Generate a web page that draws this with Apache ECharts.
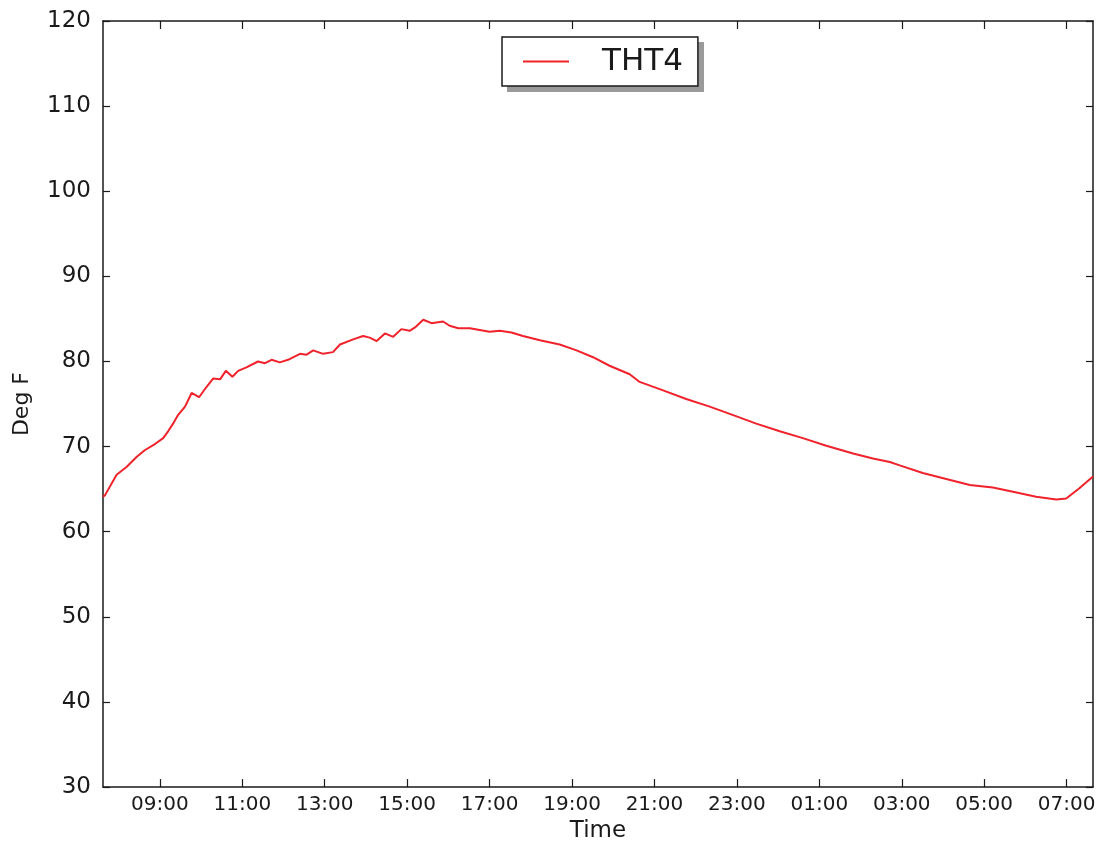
<!DOCTYPE html>
<html>
<head>
<meta charset="utf-8">
<style>
  html, body { margin: 0; padding: 0; background: #fff; }
  #chart { width: 1101px; height: 848px; }
</style>
<script src="https://cdn.jsdelivr.net/npm/echarts@6/dist/echarts.min.js"></script>
</head>
<body>
<div id="chart"></div>
<script>
// time of reading, hours from midnight of the first day (values past 24 are the next morning)
var hours = [
  7.62, 7.67, 7.95, 8.19, 8.44, 8.64, 8.88, 9.08, 9.20, 9.32, 9.44, 9.61, 9.77, 9.95,
  10.13, 10.29, 10.46, 10.60, 10.76, 10.90, 11.10, 11.38, 11.55, 11.71, 11.91, 12.11,
  12.40, 12.56, 12.72, 12.96, 13.20, 13.37, 13.69, 13.93, 14.09, 14.26, 14.46, 14.66,
  14.86, 15.06, 15.19, 15.39, 15.59, 15.87, 16.03, 16.24, 16.52, 16.76, 17.00, 17.25,
  17.53, 17.81, 18.22, 18.70, 19.11, 19.51, 19.91, 20.40, 20.64, 21.21, 21.77, 22.34,
  22.91, 23.47, 24.04, 24.60, 25.17, 25.82, 26.30, 26.71, 26.95, 27.51, 28.08, 28.65,
  29.21, 29.70, 30.26, 30.75, 30.99, 31.31, 31.64
];
var degF = [
  64.1, 64.3, 66.7, 67.6, 68.8, 69.6, 70.3, 71.0, 71.8, 72.7, 73.7, 74.7, 76.3, 75.8,
  77.0, 78.0, 77.9, 78.9, 78.2, 78.9, 79.3, 80.0, 79.8, 80.2, 79.9, 80.2,
  80.9, 80.8, 81.3, 80.9, 81.1, 82.0, 82.6, 83.0, 82.8, 82.4, 83.3, 82.9,
  83.8, 83.6, 84.0, 84.9, 84.5, 84.7, 84.2, 83.9, 83.9, 83.7, 83.5, 83.6,
  83.4, 83.0, 82.5, 82.0, 81.3, 80.5, 79.5, 78.5, 77.6, 76.6, 75.6, 74.7,
  73.7, 72.7, 71.8, 71.0, 70.1, 69.2, 68.6, 68.2, 67.8, 66.9, 66.2, 65.5,
  65.2, 64.7, 64.1, 63.8, 63.9, 65.1, 66.5
];
var xTicks = [9, 11, 13, 15, 17, 19, 21, 23, 25, 27, 29, 31];
var seriesName = 'THT4';

var font = 'DejaVu Sans';
var ink = '#1a1a1a';
var lineRed = '#f0222b';

function hhmm(v) {
  var h = Math.round(v) % 24;
  return (h < 10 ? '0' : '') + h + ':00';
}

var chart = echarts.init(document.getElementById('chart'), null, { renderer: 'canvas' });

var axisLine = { show: true, lineStyle: { color: ink, width: 1.5 } };

chart.setOption({
  backgroundColor: '#fff',
  animation: false,
  textStyle: { fontFamily: font, color: ink },
  grid: { left: 103, right: 8, top: 21, bottom: 58 },
  // legend drop shadow, offset down-right behind the legend box
  graphic: [{
    type: 'rect',
    left: 507,
    top: 42,
    z: 1,
    shape: { width: 197, height: 50 },
    style: { fill: '#9a9a9a' }
  }],
  legend: {
    data: [seriesName],
    left: 502,
    top: 37,
    z: 10,
    icon: 'rect',
    itemWidth: 46,
    itemHeight: 2,
    padding: [9, 15, 9, 21],
    backgroundColor: '#fff',
    borderColor: ink,
    borderWidth: 1.5,
    borderRadius: 0,
    textStyle: { fontFamily: font, fontSize: 31, color: ink, padding: [0, 0, 0, 28], lineHeight: 31 }
  },
  xAxis: [{
    type: 'value',
    min: hours[0],
    max: hours[hours.length - 1],
    name: 'Time',
    nameLocation: 'middle',
    nameGap: 29,
    nameTextStyle: { fontFamily: font, fontSize: 23, color: ink },
    axisLine: axisLine,
    splitLine: { show: false },
    axisTick: { inside: true, length: 8, lineStyle: { color: ink, width: 1.2 }, customValues: xTicks },
    axisLabel: {
      fontFamily: font, fontSize: 20, color: ink, margin: 8,
      customValues: xTicks,
      formatter: hhmm
    }
  }, {
    type: 'value',
    position: 'top',
    min: hours[0],
    max: hours[hours.length - 1],
    axisLine: axisLine,
    splitLine: { show: false },
    axisTick: { inside: true, length: 8, lineStyle: { color: ink, width: 1.2 }, customValues: xTicks },
    axisLabel: { show: false }
  }],
  yAxis: [{
    type: 'value',
    min: 30,
    max: 120,
    interval: 10,
    name: 'Deg F',
    nameLocation: 'middle',
    nameGap: 70,
    nameTextStyle: { fontFamily: font, fontSize: 22, color: ink },
    axisLine: axisLine,
    splitLine: { show: false },
    axisTick: { inside: true, length: 7, lineStyle: { color: ink, width: 1.2 } },
    axisLabel: { fontFamily: font, fontSize: 23, color: ink, margin: 12 }
  }, {
    type: 'value',
    position: 'right',
    min: 30,
    max: 120,
    interval: 10,
    axisLine: axisLine,
    splitLine: { show: false },
    axisTick: { inside: true, length: 7, lineStyle: { color: ink, width: 1.2 } },
    axisLabel: { show: false }
  }],
  series: [{
    name: seriesName,
    type: 'line',
    xAxisIndex: 0,
    yAxisIndex: 0,
    showSymbol: false,
    symbol: 'none',
    lineStyle: { color: lineRed, width: 2 },
    itemStyle: { color: lineRed },
    data: hours.map(function(h, i) { return [h, degF[i]]; })
  }]
});

window.addEventListener('resize', function() {
  chart.resize();
});
</script>
</body>
</html>
